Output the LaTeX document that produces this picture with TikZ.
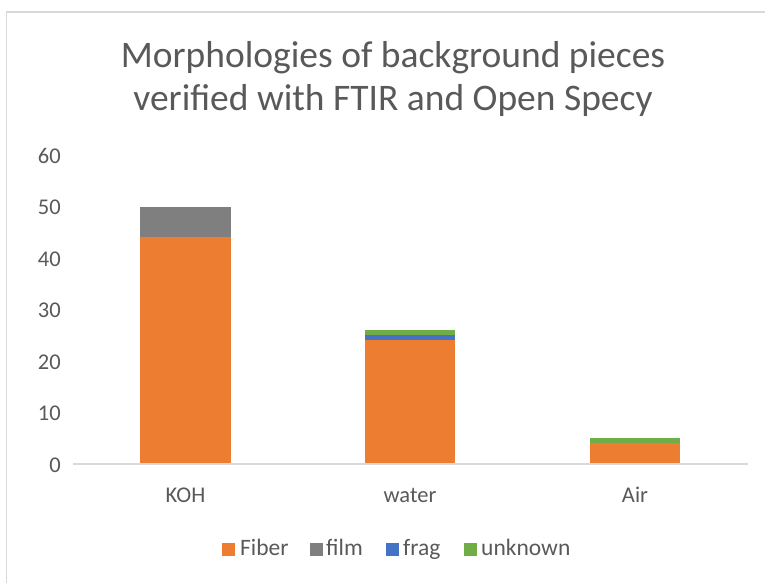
\documentclass[tikz,border=0pt]{standalone}
\usepackage{fontspec}
\setmainfont{Carlito}
\definecolor{txt}{HTML}{595959}
\definecolor{gridc}{HTML}{D9D9D9}
\definecolor{fiber}{HTML}{ED7D31}
\definecolor{film}{HTML}{7F7F7F}
\definecolor{frag}{HTML}{4472C4}
\definecolor{unk}{HTML}{70AD47}
\begin{document}
\begin{tikzpicture}[x=1pt,y=-1pt,
  titlelbl/.style={text=txt,font=\fontsize{37.5}{43}\selectfont,anchor=base,inner sep=0pt},
  ticklbl/.style={text=txt,font=\fontsize{22.5}{26}\selectfont,anchor=base east,inner sep=0pt},
  catlbl/.style={text=txt,font=\fontsize{22.5}{26}\selectfont,anchor=base,inner sep=0pt},
  leglbl/.style={text=txt,font=\fontsize{23.5}{26}\selectfont,anchor=base west,inner sep=0pt},
  legbox/.style={minimum size=13pt,inner sep=0pt,anchor=center}]
\useasboundingbox (0,0) rectangle (765,582);
% chart frame (runs past the right and bottom edges)
\draw[gridc,line width=1.5pt] (6.5,590) -- (6.5,12) -- (775,12);
% title, two lines
\node[titlelbl] (title1) at (393,67) {Morphologies of background pieces};
\node[titlelbl] (title2) at (393,110) {verified with FTIR and Open Specy};
% value axis labels: 10 units = 51.5
\foreach \v/\n in {0/t0,10/t1,20/t2,30/t3,40/t4,50/t5,60/t6}
  \node[ticklbl] (\n) at (61,{464-5.15*\v+8}) {\v};
% stacked bars: KOH
\fill[fiber] (140,464) rectangle (231,{464-5.15*44});
\fill[film] (140,{464-5.15*44}) rectangle (231,{464-5.15*50});
% water
\fill[fiber] (365,464) rectangle (455,{464-5.15*24});
\fill[frag] (365,{464-5.15*24}) rectangle (455,{464-5.15*25});
\fill[unk] (365,{464-5.15*25}) rectangle (455,{464-5.15*26});
% Air
\fill[fiber] (590,464) rectangle (680,{464-5.15*4});
\fill[unk] (590,{464-5.15*4}) rectangle (680,{464-5.15*5});
% category axis
\draw[gridc,line width=1.2pt] (73,464) -- (748,464);
\node[catlbl] (koh) at (185.5,502) {KOH};
\node[catlbl] (water) at (410,502) {water};
\node[catlbl] (air) at (635,502) {Air};
% legend
\node[legbox,fill=fiber] (lg1) at (228,549) {};
\node[leglbl] (lt1) at (240,555.5) {Fiber};
\node[legbox,fill=film] (lg2) at (316.5,549) {};
\node[leglbl] (lt2) at (326,555.5) {film};
\node[legbox,fill=frag] (lg3) at (392.5,549) {};
\node[leglbl] (lt3) at (403,555.5) {frag};
\node[legbox,fill=unk] (lg4) at (470.5,549) {};
\node[leglbl] (lt4) at (481,555.5) {unknown};
\end{tikzpicture}
\end{document}
